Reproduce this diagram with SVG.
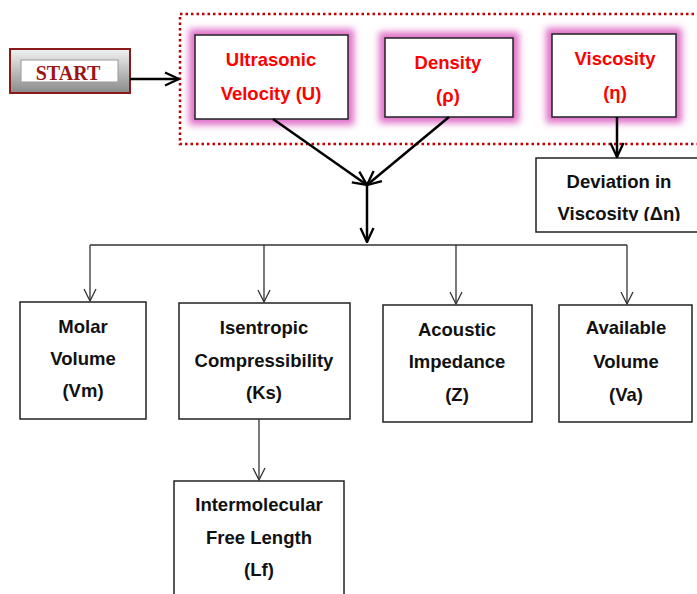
<svg xmlns="http://www.w3.org/2000/svg" width="697" height="594" viewBox="0 0 697 594">
<style>
.box{fill:#fff;stroke:#222;stroke-width:1.5}
.t{font-family:"Liberation Sans",Arial,sans-serif;font-weight:bold;font-size:18.5px;text-anchor:middle;fill:#111}
.r{fill:#f00}
.thick{stroke:#000;stroke-width:2.5;fill:none}
.thin{stroke:#333;stroke-width:1.3;fill:none}
.glow{fill:none;stroke:#e070c8;stroke-width:12}
</style>
<defs>
<filter id="glow" x="-20%" y="-20%" width="140%" height="140%"><feGaussianBlur stdDeviation="3.5"/></filter>
<linearGradient id="bev" x1="0" y1="0" x2="0" y2="1"><stop offset="0" stop-color="#f2f2f2"/><stop offset="1" stop-color="#8a8a8a"/></linearGradient>
<marker id="ah" viewBox="0 0 14 14" refX="13" refY="7" markerWidth="14" markerHeight="14" markerUnits="userSpaceOnUse" orient="auto"><path d="M1,1 L13,7 L1,13" fill="none" stroke="#333" stroke-width="1.3"/></marker>
<marker id="ahT" viewBox="0 0 16 16" refX="15" refY="8" markerWidth="16" markerHeight="16" markerUnits="userSpaceOnUse" orient="auto"><path d="M1,1.5 L15,8 L1,14.5" fill="none" stroke="#000" stroke-width="2.3"/></marker>
<clipPath id="devclip"><rect x="536" y="158" width="170" height="63"/></clipPath>
</defs>

<rect x="180" y="14" width="530" height="130" fill="none" stroke="#c00000" stroke-width="2.5" stroke-dasharray="2.5,3"/>

<g id="start">
<rect x="10" y="49" width="120" height="44" fill="url(#bev)" stroke="#8b1a1a" stroke-width="2"/>
<rect x="21" y="60" width="97" height="22" fill="#fff" stroke="#999" stroke-width="1"/>
<text x="68" y="80" font-family="Liberation Serif,'Times New Roman',serif" font-weight="bold" font-size="20" text-anchor="middle" fill="#9b1515">START</text>
</g>

<g id="ultrasonic">
<rect class="glow" x="195" y="35" width="153" height="84" filter="url(#glow)"/>
<rect class="box" x="195" y="35" width="153" height="84"/>
<text class="t r" x="271" y="66">Ultrasonic</text>
<text class="t r" x="271" y="100">Velocity (U)</text>
</g>
<g id="density">
<rect class="glow" x="385" y="38" width="128" height="79" filter="url(#glow)"/>
<rect class="box" x="385" y="38" width="128" height="79"/>
<text class="t r" x="448" y="69">Density</text>
<text class="t r" x="448" y="102">(ρ)</text>
</g>
<g id="viscosity">
<rect class="glow" x="552" y="34" width="124" height="83" filter="url(#glow)"/>
<rect class="box" x="552" y="34" width="124" height="83"/>
<text class="t r" x="615" y="65">Viscosity</text>
<text class="t r" x="615" y="99">(η)</text>
</g>
<g id="deviation">
<rect class="box" x="536" y="158" width="170" height="74"/>
<g clip-path="url(#devclip)">
<text class="t" x="619" y="188">Deviation in</text>
<text class="t" x="619" y="220">Viscosity (Δη)</text>
</g>
</g>

<g id="molar">
<rect class="box" x="20" y="302" width="126" height="117"/>
<text class="t" x="83" y="333">Molar</text>
<text class="t" x="83" y="365">Volume</text>
<text class="t" x="83" y="397">(Vm)</text>
</g>
<g id="isentropic">
<rect class="box" x="179" y="303" width="171" height="116"/>
<text class="t" x="264" y="334">Isentropic</text>
<text class="t" x="264" y="367">Compressibility</text>
<text class="t" x="264" y="399">(Ks)</text>
</g>
<g id="acoustic">
<rect class="box" x="383" y="305" width="149" height="117"/>
<text class="t" x="457" y="336">Acoustic</text>
<text class="t" x="457" y="368">Impedance</text>
<text class="t" x="457" y="401">(Z)</text>
</g>
<g id="available">
<rect class="box" x="559" y="305" width="133" height="117"/>
<text class="t" x="626" y="334">Available</text>
<text class="t" x="626" y="368">Volume</text>
<text class="t" x="626" y="401">(Va)</text>
</g>
<g id="intermolecular">
<rect class="box" x="174" y="481" width="170" height="120"/>
<text class="t" x="259" y="511">Intermolecular</text>
<text class="t" x="259" y="544">Free Length</text>
<text class="t" x="259" y="576">(Lf)</text>
</g>

<g id="connectors">
<line class="thick" x1="130" y1="79" x2="179" y2="79" marker-end="url(#ahT)"/>
<line class="thick" x1="273" y1="119" x2="367" y2="185" marker-end="url(#ahT)"/>
<line class="thick" x1="449" y1="117" x2="367" y2="185" marker-end="url(#ahT)"/>
<line class="thick" x1="367" y1="185" x2="367" y2="242" marker-end="url(#ahT)"/>
<line class="thick" x1="617" y1="117" x2="617" y2="157" marker-end="url(#ahT)"/>
<line class="thin" x1="90" y1="245" x2="627" y2="245"/>
<line class="thin" x1="90" y1="245" x2="90" y2="301" marker-end="url(#ah)"/>
<line class="thin" x1="264" y1="245" x2="264" y2="302" marker-end="url(#ah)"/>
<line class="thin" x1="456" y1="245" x2="456" y2="304" marker-end="url(#ah)"/>
<line class="thin" x1="627" y1="245" x2="627" y2="304" marker-end="url(#ah)"/>
<line class="thin" x1="259" y1="419" x2="259" y2="480" marker-end="url(#ah)"/>
</g>
</svg>
